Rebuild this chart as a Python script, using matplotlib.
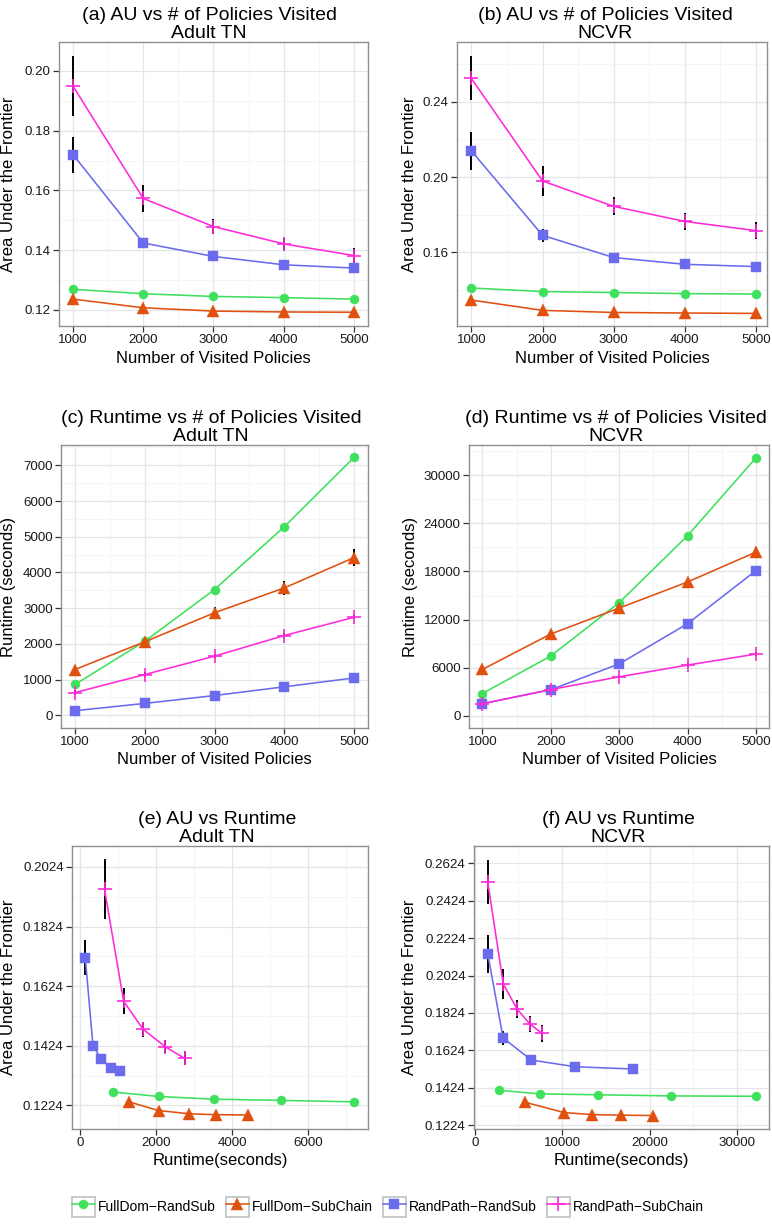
import matplotlib
matplotlib.use("Agg")
import numpy as np
import matplotlib.pyplot as plt
from matplotlib.legend_handler import HandlerLine2D
from matplotlib.patches import Rectangle
from matplotlib.lines import Line2D

plt.rcParams['font.family'] = ['Liberation Sans', 'DejaVu Sans']

# -----------------------------
# Data
# -----------------------------
methods = ['FullDom\u2212RandSub', 'FullDom\u2212SubChain',
           'RandPath\u2212RandSub', 'RandPath\u2212SubChain']
colors = ['#3ee05c', '#e0500f', '#6b6bee', '#ff2ad8']
markers = ['o', '^', 's', '+']
msizes = [6.5, 8.5, 7, 10]

policies = [1000, 2000, 3000, 4000, 5000]

# Area under the frontier, Adult TN
au_adult_fdrs = [0.1269, 0.1254, 0.1245, 0.1241, 0.1236]
au_adult_fdsc = [0.1236, 0.1207, 0.1196, 0.1193, 0.1192]
au_adult_rprs = [0.1720, 0.1424, 0.1379, 0.1351, 0.1340]
au_adult_rpsc = [0.1949, 0.1573, 0.1479, 0.1421, 0.1382]
au_adult_err_fdrs = [0.0004, 0.0003, 0.0003, 0.0003, 0.0003]
au_adult_err_fdsc = [0.0004, 0.0003, 0.0003, 0.0003, 0.0003]
au_adult_err_rprs = [0.0060, 0.0008, 0.0005, 0.0005, 0.0004]
au_adult_err_rpsc = [0.0101, 0.0044, 0.0025, 0.0021, 0.0024]

# Area under the frontier, NCVR
au_ncvr_fdrs = [0.1410, 0.1391, 0.1386, 0.1380, 0.1378]
au_ncvr_fdsc = [0.1346, 0.1291, 0.1280, 0.1277, 0.1275]
au_ncvr_rprs = [0.2139, 0.1690, 0.1572, 0.1536, 0.1524]
au_ncvr_rpsc = [0.2524, 0.1979, 0.1844, 0.1764, 0.1715]
au_ncvr_err_fdrs = [0.0005, 0.0004, 0.0004, 0.0004, 0.0004]
au_ncvr_err_fdsc = [0.0005, 0.0004, 0.0004, 0.0004, 0.0004]
au_ncvr_err_rprs = [0.0103, 0.0035, 0.0008, 0.0006, 0.0005]
au_ncvr_err_rpsc = [0.0117, 0.0079, 0.0048, 0.0044, 0.0046]

# Runtime (seconds), Adult TN
rt_adult_fdrs = [865, 2072, 3522, 5280, 7220]
rt_adult_fdsc = [1283, 2060, 2872, 3567, 4416]
rt_adult_rprs = [130, 334, 555, 799, 1047]
rt_adult_rpsc = [637, 1142, 1657, 2235, 2745]
rt_adult_err_fdrs = [40, 50, 60, 60, 60]
rt_adult_err_fdsc = [60, 60, 150, 200, 230]
rt_adult_err_rprs = [20, 20, 20, 30, 30]
rt_adult_err_rpsc = [60, 60, 60, 60, 60]

# Runtime (seconds), NCVR
rt_ncvr_fdrs = [2760, 7450, 14110, 22470, 32207]
rt_ncvr_fdsc = [5765, 10193, 13432, 16690, 20425]
rt_ncvr_rprs = [1490, 3240, 6458, 11483, 18120]
rt_ncvr_rpsc = [1485, 3260, 4847, 6315, 7690]
rt_ncvr_err_fdrs = [150, 200, 200, 250, 250]
rt_ncvr_err_fdsc = [200, 250, 300, 500, 600]
rt_ncvr_err_rprs = [150, 300, 200, 250, 300]
rt_ncvr_err_rpsc = [150, 200, 200, 200, 250]

au_adult = [au_adult_fdrs, au_adult_fdsc, au_adult_rprs, au_adult_rpsc]
au_adult_err = [au_adult_err_fdrs, au_adult_err_fdsc, au_adult_err_rprs, au_adult_err_rpsc]
au_ncvr = [au_ncvr_fdrs, au_ncvr_fdsc, au_ncvr_rprs, au_ncvr_rpsc]
au_ncvr_err = [au_ncvr_err_fdrs, au_ncvr_err_fdsc, au_ncvr_err_rprs, au_ncvr_err_rpsc]
rt_adult = [rt_adult_fdrs, rt_adult_fdsc, rt_adult_rprs, rt_adult_rpsc]
rt_adult_err = [rt_adult_err_fdrs, rt_adult_err_fdsc, rt_adult_err_rprs, rt_adult_err_rpsc]
rt_ncvr = [rt_ncvr_fdrs, rt_ncvr_fdsc, rt_ncvr_rprs, rt_ncvr_rpsc]
rt_ncvr_err = [rt_ncvr_err_fdrs, rt_ncvr_err_fdsc, rt_ncvr_err_rprs, rt_ncvr_err_rpsc]

# -----------------------------
# Figure
# -----------------------------
W, H = 772, 1225
fig = plt.figure(figsize=(W / 100, H / 100), dpi=100)


def draw_panel(box, xs, ys, errs, title, title_cx, xlabel, ylabel, ylabel_x,
               xlim, ylim, xmajor, xminor, ymajor, yminor, yfmt):
    l, t, r, b = box
    ax = fig.add_axes([l / W, 1 - b / H, (r - l) / W, (b - t) / H])
    for i in range(4):
        ax.errorbar(xs[i], ys[i], yerr=errs[i], fmt='none', ecolor='black',
                    elinewidth=1.4, capsize=0, zorder=2)
        ax.plot(xs[i], ys[i], color=colors[i], marker=markers[i], ms=msizes[i],
                mec=colors[i], mew=1.2 if markers[i] == '+' else 0.3,
                lw=1.15, zorder=3)
    ax.set_xticks(xmajor)
    ax.set_xticks(xminor, minor=True)
    ax.set_yticks(ymajor)
    ax.set_yticks(yminor, minor=True)
    ax.set_yticklabels([yfmt % v for v in ymajor])
    ax.set_xticklabels(['%d' % v for v in xmajor])
    ax.set_xlim(xlim)
    ax.set_ylim(ylim)
    ax.grid(which='major', color='#e3e6e6', lw=0.9)
    ax.grid(which='minor', color='#f3f5f5', lw=0.6)
    ax.set_axisbelow(True)
    for s in ax.spines.values():
        s.set_color('#8a9090')
        s.set_linewidth(1.0)
    ax.tick_params(which='major', direction='out', length=4, width=0.9,
                   color='#333333', labelsize=9.6, labelcolor='#1a1a1a', pad=2)
    ax.tick_params(which='minor', length=0)
    ax.set_xlabel(xlabel, fontsize=12, va='center')
    ax.xaxis.set_label_coords(0.5, -32 / (b - t))
    ax.set_ylabel(ylabel, fontsize=12, va='center')
    ax.yaxis.set_label_coords((ylabel_x - l) / (r - l), 0.5)
    ax.text((title_cx - l) / (r - l), 1.0, title, transform=ax.transAxes,
            ha='center', va='bottom', fontsize=14, linespacing=1.08,
            multialignment='center')
    return ax


pol4 = [policies] * 4
p_minor = [500, 1500, 2500, 3500, 4500, 5500]

draw_panel((59, 42, 368, 326), pol4, au_adult, au_adult_err,
           '(a) AU vs # of Policies Visited\nAdult TN', 209,
           'Number of Visited Policies', 'Area Under the Frontier', 9,
           (800, 5200), (0.1146, 0.2097), policies, p_minor,
           [0.12, 0.14, 0.16, 0.18, 0.20], [0.11, 0.13, 0.15, 0.17, 0.19, 0.21], '%.2f')

draw_panel((457, 42, 767, 326), pol4, au_ncvr, au_ncvr_err,
           '(b) AU vs # of Policies Visited\nNCVR', 605,
           'Number of Visited Policies', 'Area Under the Frontier', 410,
           (797, 5155), (0.1208, 0.2718), policies, p_minor,
           [0.16, 0.20, 0.24], [0.12, 0.14, 0.18, 0.22, 0.26], '%.2f')

draw_panel((61, 445, 368, 728), pol4, rt_adult, rt_adult_err,
           '(c) Runtime vs # of Policies Visited\nAdult TN', 211,
           'Number of Visited Policies', 'Runtime (seconds)', 9,
           (800, 5200), (-354, 7568), policies, p_minor,
           list(range(0, 7001, 1000)), list(range(500, 7501, 1000)), '%d')

draw_panel((469, 445, 769, 728), pol4, rt_ncvr, rt_ncvr_err,
           '(d) Runtime vs # of Policies Visited\nNCVR', 616,
           'Number of Visited Policies', 'Runtime (seconds)', 410,
           (805, 5190), (-1540, 33792), policies, p_minor,
           list(range(0, 30001, 6000)), list(range(3000, 33001, 6000)), '%d')

au_t = [0.1224 + 0.02 * k for k in range(5)]
au_tm = [0.1324 + 0.02 * k for k in range(5)]
draw_panel((72, 846, 368, 1129), rt_adult, au_adult, au_adult_err,
           '(e) AU vs Runtime\nAdult TN', 217,
           'Runtime(seconds)', 'Area Under the Frontier', 9,
           (-219, 7577), (0.1145, 0.2094), [0, 2000, 4000, 6000], [1000, 3000, 5000, 7000],
           au_t, au_tm, '%.4f')

au_f = [0.1224 + 0.02 * k for k in range(8)]
au_fm = [0.1324 + 0.02 * k for k in range(8)]
draw_panel((474, 846, 769, 1129), rt_ncvr, au_ncvr, au_ncvr_err,
           '(f) AU vs Runtime\nNCVR', 618,
           'Runtime(seconds)', 'Area Under the Frontier', 410,
           (-88, 33650), (0.1203, 0.2717), [0, 10000, 20000, 30000], [5000, 15000, 25000],
           au_f, au_fm, '%.4f')


# -----------------------------
# Legend with boxed keys
# -----------------------------
class BoxedKey(HandlerLine2D):
    def create_artists(self, legend, orig_handle, xdescent, ydescent,
                       width, height, fontsize, trans):
        arts = super().create_artists(legend, orig_handle, xdescent, ydescent,
                                      width, height, fontsize, trans)
        box = Rectangle((-xdescent, -ydescent), width, height, facecolor='white',
                        edgecolor='#c5cbcb', lw=1.4, transform=trans)
        return [box] + list(arts)


handles = [Line2D([], [], color=colors[i], marker=markers[i], ms=msizes[i],
                  mec=colors[i], mew=1.2 if markers[i] == '+' else 0.3, lw=1.15)
           for i in range(4)]
fig.legend(handles, methods, loc='center', bbox_to_anchor=(388 / W, 1 - 1207 / H),
           ncol=4, frameon=False, handler_map={Line2D: BoxedKey()},
           handlelength=1.65, handleheight=1.8, handletextpad=0.25,
           columnspacing=0.7, fontsize=10, borderpad=0)

fig.savefig('out.png', dpi=100)
